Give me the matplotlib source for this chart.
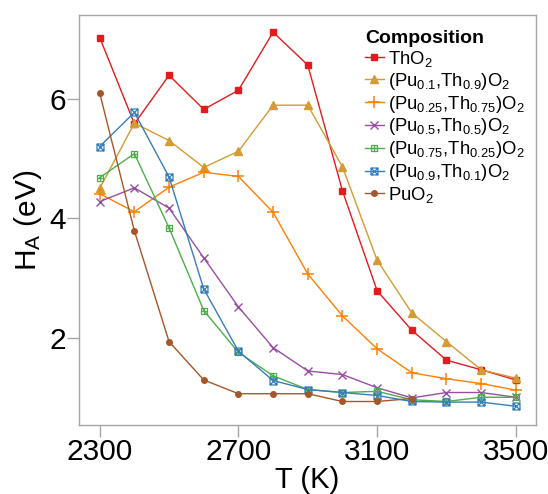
import matplotlib
matplotlib.use("Agg")
import matplotlib.pyplot as plt
from matplotlib.path import Path

plt.rcParams["font.family"] = ["Liberation Sans", "DejaVu Sans"]
plt.rcParams["mathtext.fontset"] = "custom"
plt.rcParams["mathtext.rm"] = "Liberation Sans"
plt.rcParams["mathtext.it"] = "Liberation Sans"
plt.rcParams["mathtext.bf"] = "Liberation Sans:bold"

temps = [2300, 2400, 2500, 2600, 2700, 2800, 2900, 3000, 3100, 3200, 3300, 3400, 3500]

tho2 = [7.02, 5.58, 6.39, 5.82, 6.14, 7.11, 6.56, 4.46, 2.79, 2.13, 1.63, 1.47, 1.30]
pu10 = [4.50, 5.59, 5.30, 4.85, 5.12, 5.89, 5.89, 4.86, 3.30, 2.42, 1.94, 1.47, 1.33]
pu25 = [4.41, 4.11, 4.52, 4.77, 4.70, 4.10, 3.07, 2.37, 1.82, 1.42, 1.32, 1.24, 1.13]
pu50 = [4.28, 4.51, 4.17, 3.34, 2.52, 1.84, 1.45, 1.39, 1.17, 1.00, 1.09, 1.09, 1.01]
pu75 = [4.68, 5.08, 3.84, 2.46, 1.76, 1.37, 1.14, 1.09, 1.11, 0.97, 0.94, 1.01, 1.01]
pu90 = [5.20, 5.77, 4.69, 2.82, 1.78, 1.29, 1.14, 1.09, 1.04, 0.94, 0.93, 0.93, 0.86]
puo2 = [6.09, 3.79, 1.94, 1.30, 1.07, 1.07, 1.07, 0.94, 0.94, 0.99]

labels = [
    r"ThO$_2$",
    r"(Pu$_{0.1}$,Th$_{0.9}$)O$_2$",
    r"(Pu$_{0.25}$,Th$_{0.75}$)O$_2$",
    r"(Pu$_{0.5}$,Th$_{0.5}$)O$_2$",
    r"(Pu$_{0.75}$,Th$_{0.25}$)O$_2$",
    r"(Pu$_{0.9}$,Th$_{0.1}$)O$_2$",
    r"PuO$_2$",
]
colors = ["#e41a1c", "#d39b32", "#ff7f00", "#984ea3", "#4daf4a", "#377eb8", "#a65628"]

# open square with a plus inside, and open square with a cross inside
sq = [(-1, -1), (1, -1), (1, 1), (-1, 1), (-1, -1)]
sq_codes = [Path.MOVETO] + [Path.LINETO] * 3 + [Path.CLOSEPOLY]
box_plus = Path(sq + [(0, -1), (0, 1), (-1, 0), (1, 0)],
                sq_codes + [Path.MOVETO, Path.LINETO, Path.MOVETO, Path.LINETO])
box_times = Path(sq + [(-1, -1), (1, 1), (-1, 1), (1, -1)],
                 sq_codes + [Path.MOVETO, Path.LINETO, Path.MOVETO, Path.LINETO])

styles = [
    dict(marker="s", ms=4.8),
    dict(marker="^", ms=5.5),
    dict(marker="+", ms=8, mew=1.1),
    dict(marker="x", ms=5.5, mew=1.0),
    dict(marker=box_plus, ms=5.0, mfc="none", mew=0.9),
    dict(marker=box_times, ms=5.0, mfc="none", mew=0.9),
    dict(marker="o", ms=4.0),
]

series = [tho2, pu10, pu25, pu50, pu75, pu90, puo2]

fig = plt.figure(figsize=(5.48, 4.94), dpi=100)
ax = fig.add_axes([0.144, 0.14, 0.834, 0.83])

for vals, lab, col, st in zip(series, labels, colors, styles):
    ax.plot(temps[:len(vals)], vals, color=col, lw=1.0, label=lab,
            markeredgecolor=col, **st)

ax.set_xlim(2240, 3558)
ax.set_ylim(0.55, 7.40)
ax.set_xticks([2300, 2700, 3100, 3500])
ax.set_yticks([2, 4, 6])

frame_col = "#a6a6a6"
for sp in ax.spines.values():
    sp.set_color(frame_col)
    sp.set_linewidth(1.0)
ax.tick_params(axis="both", which="major", length=8.5, width=1.0, color=frame_col,
               labelsize=21.5, pad=1.0, labelcolor="black")

ax.set_xlabel("T (K)", fontsize=21, labelpad=0)
ax.set_ylabel(r"H$_\mathrm{A}$ (eV)", fontsize=21.5, labelpad=4)

leg = ax.legend(loc="upper right", bbox_to_anchor=(1.0, 0.99), frameon=False,
                title="Composition", fontsize=13.3, title_fontsize=14,
                handlelength=1.0, handletextpad=0.25, labelspacing=0.1,
                borderaxespad=0.2, alignment="left", markerscale=1.0)
leg.get_title().set_fontweight("bold")

fig.savefig("out.png", dpi=100)
